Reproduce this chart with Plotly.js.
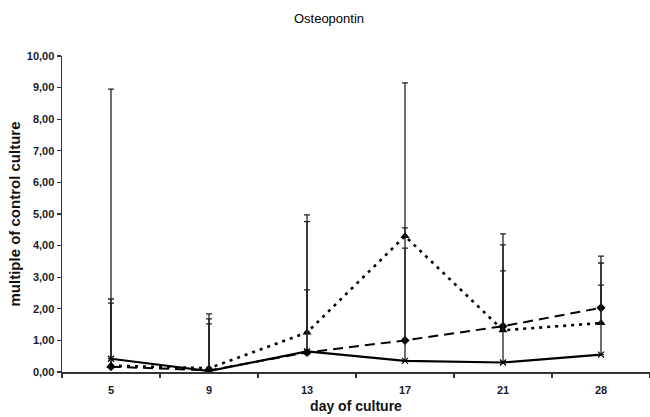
<!DOCTYPE html>
<html>
<head>
<meta charset="utf-8">
<script src="https://cdn.plot.ly/plotly-3.0.1.min.js"></script>
<style>html,body{margin:0;padding:0;background:#fff;}#chart{width:650px;height:417px;}</style>
</head>
<body>
<div id="chart"></div>
<script>
// Categories (day of culture)
var days = ['5', '9', '13', '17', '21', '28'];

// Series values (multiple of control culture)
var solidValues  = [0.42, 0.03, 0.65, 0.35, 0.30, 0.55];
var dashedValues = [0.17, 0.05, 0.62, 1.00, 1.45, 2.03];
var dottedValues = [0.20, 0.12, 1.25, 4.30, 1.32, 1.55];

// Upper ends of the error bars
var solidTops  = [8.95, 1.84, 4.97, 3.92, 4.37, 3.67];
var dashedTops = [2.31, 1.68, 4.76, 4.56, 4.02, 2.75];
var dottedTops = [2.18, 1.52, 2.60, 9.15, 3.20, 3.45];

// Y tick values
var yTicks = [0, 1, 2, 3, 4, 5, 6, 7, 8, 9, 10];

function diff(tops, vals) { return tops.map(function (t, i) { return t - vals[i]; }); }
function zeros(n) { return new Array(n).fill(0); }

function errY(tops, vals) {
  return {type: 'data', symmetric: false, array: diff(tops, vals), arrayminus: zeros(vals.length),
          color: '#222', thickness: 1.3, width: 3};
}

var FONT = 'Liberation Sans, Arial, sans-serif';

var traces = [
  {x: days, y: dottedValues, type: 'scatter', mode: 'lines+markers', name: 'dotted',
   line: {color: '#000', width: 2.6, dash: '3px,5px'},
   marker: {symbol: 'triangle-up', size: 8, color: '#000'},
   error_y: errY(dottedTops, dottedValues)},
  {x: days, y: dashedValues, type: 'scatter', mode: 'lines+markers', name: 'dashed',
   line: {color: '#000', width: 2, dash: '10px,6px'},
   marker: {symbol: 'diamond', size: 7, color: '#000'},
   error_y: errY(dashedTops, dashedValues)},
  {x: days, y: solidValues, type: 'scatter', mode: 'lines+markers', name: 'solid',
   line: {color: '#000', width: 2.2},
   marker: {symbol: 'x-thin-open', size: 6, color: '#000', line: {color: '#000', width: 1.2}},
   error_y: errY(solidTops, solidValues)}
];

var layout = {
  width: 650, height: 417,
  margin: {l: 62, r: 0, t: 56, b: 45},
  paper_bgcolor: '#fff', plot_bgcolor: '#fff',
  showlegend: false,
  separators: ',.',
  font: {family: FONT, color: '#1c1c2a'},
  title: {text: 'Osteopontin', font: {size: 13, color: '#000', weight: 500},
          x: 329 / 650, xref: 'container', xanchor: 'center', y: 1 - 18 / 417, yref: 'container', yanchor: 'middle'},
  xaxis: {
    type: 'category', range: [-0.5, 5.5], tickson: 'boundaries',
    showline: true, linecolor: '#333', linewidth: 1.5,
    ticks: 'outside', ticklen: 4, tickcolor: '#333', tickwidth: 1.3,
    ticklabelstandoff: 7,
    showgrid: false, zeroline: false,
    tickfont: {size: 11, color: '#1c1c2a', family: FONT, weight: 'bold'},
    title: {text: 'day of culture', standoff: 6,
            font: {size: 14, color: '#111', family: FONT, weight: 'bold'}}
  },
  yaxis: {
    range: [0, 10], tickvals: yTicks, tickformat: '.2f',
    showline: true, linecolor: '#333', linewidth: 1.5,
    ticks: 'outside', ticklen: 4, tickcolor: '#333', tickwidth: 1.3,
    showgrid: false, zeroline: false,
    tickfont: {size: 11, color: '#1c1c2a', family: FONT, weight: 'bold'},
    title: {text: 'multiple of control culture', standoff: 2,
            font: {size: 15, color: '#111', family: FONT, weight: 'bold'}}
  }
};

Plotly.newPlot('chart', traces, layout, {displayModeBar: false, staticPlot: true});
</script>
</body>
</html>
